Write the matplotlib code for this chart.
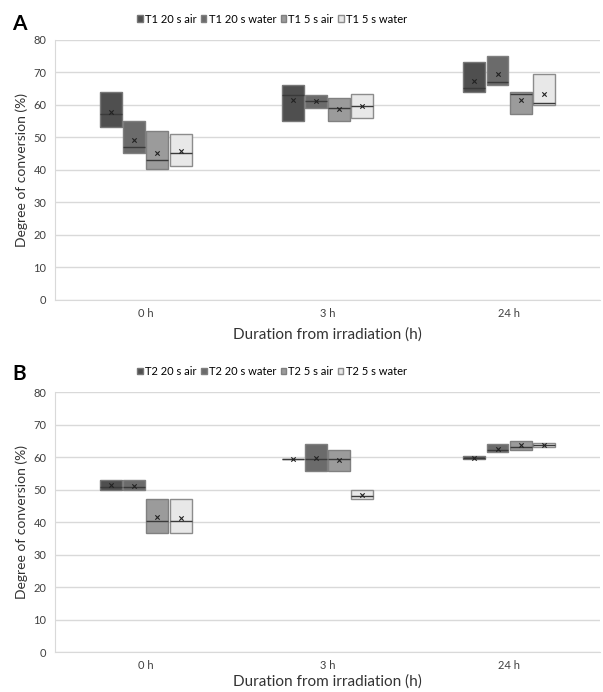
import numpy as np
import matplotlib.pyplot as plt
from matplotlib.patches import Patch

plt.rcParams['font.family'] = ['Lato', 'DejaVu Sans']

# ------------------------------------------------------------------
# Degree of conversion box plots
times = ['0 h', '3 h', '24 h']
names_a = ['T1 20 s air', 'T1 20 s water', 'T1 5 s air', 'T1 5 s water']
names_b = ['T2 20 s air', 'T2 20 s water', 'T2 5 s air', 'T2 5 s water']

# Panel A: one row per series, one value per time point
a_low = [[53.2, 55.1, 64.1], [45.2, 59.2, 66.2], [40.2, 55.1, 57.1], [41.2, 56.1, 60.1]]
a_high = [[64.1, 66.2, 73.3], [55.1, 63.2, 75.2], [52.1, 62.2, 64.1], [51.1, 63.3, 69.6]]
a_med = [[57.2, 63.2, 65.1], [47.1, 61.1, 67.2], [43.1, 59.2, 63.5], [45.2, 59.6, 60.7]]
a_mean = [[57.9, 61.5, 67.5], [49.1, 61.1, 69.5], [45.1, 58.9, 61.5], [45.7, 59.8, 63.4]]

# Panel B
b_low = [[49.8, 59.4, 59.4], [49.8, 55.6, 61.4], [36.7, 55.6, 62.3], [36.7, 47.0, 63.2]]
b_high = [[52.8, 59.4, 60.4], [52.8, 64.1, 64.1], [47.1, 62.3, 65.0], [47.1, 50.0, 64.2]]
b_med = [[50.8, 59.4, 59.8], [50.8, 59.5, 62.1], [40.2, 59.5, 63.0], [40.2, 47.9, 63.6]]
b_mean = [[51.3, 59.4, 59.8], [51.2, 59.7, 62.6], [41.4, 59.2, 63.6], [41.3, 48.3, 63.6]]

fills = ['#4f4f4f', '#6b6b6b', '#9b9b9b', '#e8e8e8']
edges = ['#777777', '#7f7f7f', '#808080', '#8c8c8c']
width = 0.121
step = 0.128


def draw(ax, low, high, med, mean, pad):
  x = np.arange(len(times))
  for i in range(4):
    pos = x + (i - 1.5) * step
    lo = np.array(low[i])
    hi = np.array(high[i])
    ax.bar(pos, hi - lo, width, bottom=lo, color=fills[i],
           edgecolor=edges[i], linewidth=1.0, zorder=3)
    ax.hlines(med[i], pos - width / 2, pos + width / 2,
              color='#3a3a3a', linewidth=1.0, zorder=4)
    ax.scatter(pos, mean[i], marker='x', s=10, color='#222222',
               linewidths=0.8, zorder=5)
  ax.set_xlim(-0.5, 2.5)
  ax.set_ylim(0, 80)
  ax.set_yticks(range(0, 81, 10))
  ax.set_xticks(x)
  ax.set_xticklabels(times)
  ax.tick_params(length=0, labelsize=8, colors='#404040', pad=6)
  ax.grid(axis='y', color='#d9d9d9', linewidth=1.0, zorder=0)
  for s in ['top', 'right']:
    ax.spines[s].set_visible(False)
  for s in ['left', 'bottom']:
    ax.spines[s].set_color('#d9d9d9')
  ax.set_ylabel('Degree of conversion (%)', fontsize=10, color='#333333')
  ax.set_xlabel('Duration from irradiation (h)', fontsize=11,
                color='#333333', labelpad=pad)


fig = plt.figure(figsize=(6.03, 6.92), dpi=100)
ax_a = fig.add_axes([0.091, 0.5665, 0.904, 0.3757])
ax_b = fig.add_axes([0.091, 0.0578, 0.904, 0.3757])
draw(ax_a, a_low, a_high, a_med, a_mean, 6)
draw(ax_b, b_low, b_high, b_med, b_mean, 2)

for names, ypos in [(names_a, 0.9725), (names_b, 0.463)]:
  handles = [Patch(facecolor=fills[i], edgecolor=edges[i], label=names[i])
             for i in range(4)]
  fig.legend(handles=handles, loc='center', bbox_to_anchor=(0.451, ypos),
             ncol=4, frameon=False, fontsize=8, handlelength=0.5,
             handleheight=0.5, handletextpad=0.2, columnspacing=0.4,
             borderpad=0)

fig.text(0.02, 0.966, 'A', fontsize=15, fontweight='bold', ha='left', va='center')
fig.text(0.02, 0.46, 'B', fontsize=15, fontweight='bold', ha='left', va='center')

fig.savefig('out.png', dpi=100)
